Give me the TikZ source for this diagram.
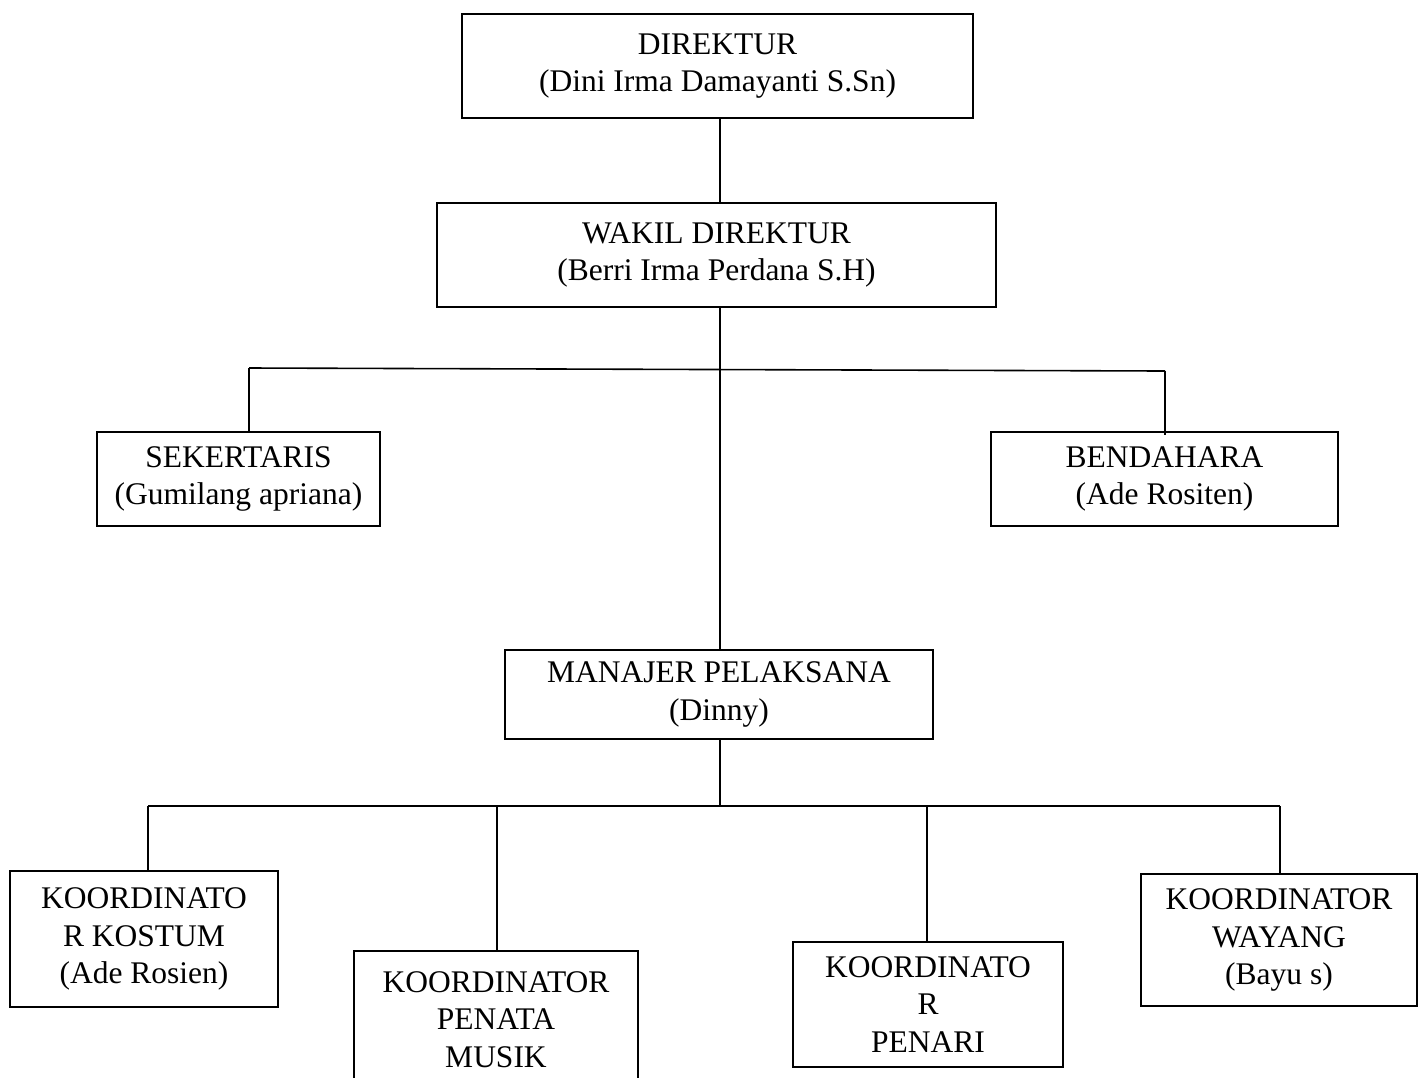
\documentclass[tikz,border=0pt]{standalone}
\usepackage{fontspec}
\setmainfont{Liberation Serif}
\begin{document}
\begin{tikzpicture}[x=1pt,y=-1pt,
  box/.style={draw, line width=1.8pt, inner sep=0pt, align=center,
    font=\fontsize{31.5}{37.5}\selectfont},
  conn/.style={line width=1.6pt}]
\clip (0,0) rectangle (1423,1077);
\fill[white] (0,0) rectangle (1423,1077);

\node[box, minimum width=511, minimum height=104] (dir) at (717.5,66) {DIREKTUR\\(Dini Irma Damayanti S.Sn)};
\node[box, minimum width=559, minimum height=104] (wak) at (716.5,255) {WAKIL DIREKTUR\\(Berri Irma Perdana S.H)};
\node[box, minimum width=283, minimum height=94] (sek) at (238.5,479) {SEKERTARIS\\(Gumilang apriana)};
\node[box, minimum width=347, minimum height=94] (ben) at (1164.5,479) {BENDAHARA\\(Ade Rositen)};
\node[box, minimum width=428, minimum height=89] (man) at (719,694.5) {MANAJER PELAKSANA\\(Dinny)};
\node[box, minimum width=268, minimum height=136] (kos) at (144,939) {KOORDINATO\\R KOSTUM\\(Ade Rosien)};
\node[box, minimum width=284, minimum height=137] (mus) at (496,1019.5) {KOORDINATOR\\PENATA\\MUSIK};
\node[box, minimum width=270, minimum height=125] (pen) at (928,1004.5) {KOORDINATO\\R\\PENARI};
\node[box, minimum width=276, minimum height=132] (way) at (1279,940) {KOORDINATOR\\WAYANG\\(Bayu s)};

\coordinate (j1) at (720,369);
\coordinate (j1l) at (249,368);
\coordinate (j1r) at (1165,371);
\coordinate (j2) at (720,806);
\coordinate (j2a) at (148,806);
\coordinate (j2b) at (497,806);
\coordinate (j2c) at (927,806);
\coordinate (j2d) at (1280,806);

\draw[conn] (dir.south -| j1) -- (wak.north -| j1);
\draw[conn] (wak.south -| j1) -- (man.north -| j1);
\draw[conn] (j1l) -- (j1r);
\draw[conn] (j1l) -- (sek.north -| j1l);
\draw[conn] (j1r) -- ([yshift=-4pt]ben.north -| j1r);
\draw[conn] (man.south -| j2) -- (j2);
\draw[conn] (j2a) -- (j2d);
\draw[conn] (j2a) -- (kos.north -| j2a);
\draw[conn] (j2b) -- (mus.north -| j2b);
\draw[conn] (j2c) -- (pen.north -| j2c);
\draw[conn] (j2d) -- (way.north -| j2d);
\end{tikzpicture}
\end{document}
